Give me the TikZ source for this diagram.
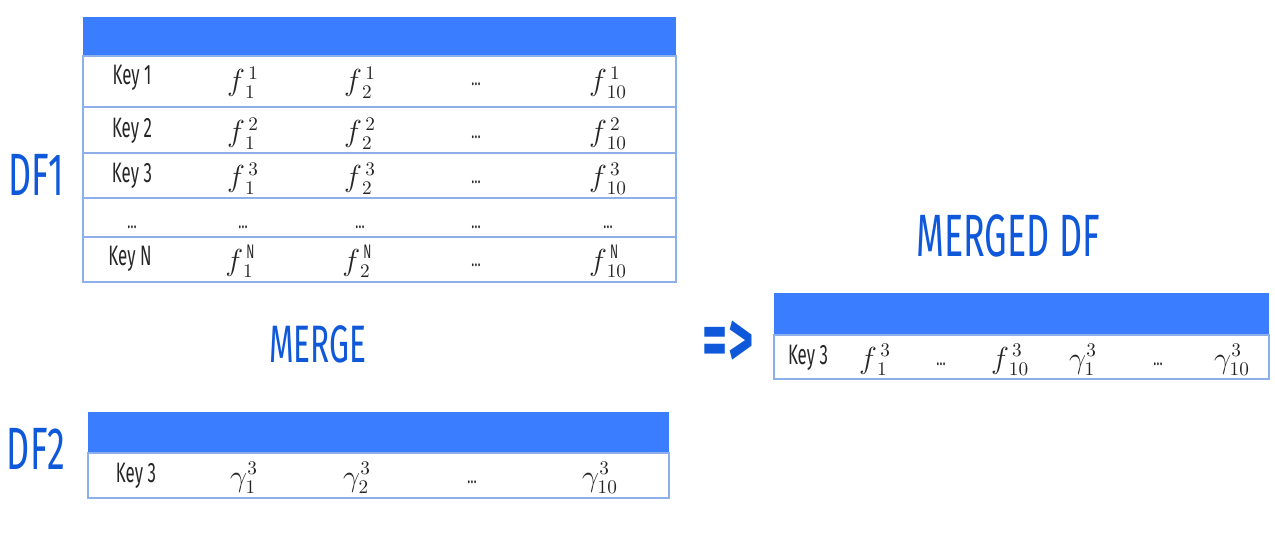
\documentclass[tikz,border=0pt]{standalone}
\usepackage{fontspec}
\usepackage{xcolor}
\usepackage{amsmath}
\setmainfont{Fira Sans}[FakeStretch=0.6]
\definecolor{hdrblue}{HTML}{3A7DFF}
\definecolor{titleblue}{HTML}{0F58DA}
\definecolor{lineblue}{HTML}{8DB0EA}

\begin{document}
\begin{tikzpicture}[
    x=0.02cm, y=-0.02cm,
    header/.style={fill=hdrblue, draw=none},
    frame/.style={draw=lineblue, line width=0.7pt},
    cell/.style={anchor=base, inner sep=0pt, text=black!85, font=\fontsize{16}{18}\selectfont},
    dots/.style={anchor=base, inner sep=0pt, text=black!85, font=\fontsize{12}{14}\selectfont},
    title/.style={inner sep=0pt, text=titleblue, font=\fontsize{34}{38}\selectfont}
]
\useasboundingbox (0,0) rectangle (1275,544);

% labels
\node[title] (df1) at (36,175) {DF1};
\node[title] (df2) at (36,449) {DF2};
\node[title, font=\fontsize{30}{34}\selectfont] (merge) at (318,344) {MERGE};
\node[title] (merged) at (1008,236) {MERGED DF};
\node[title, font=\bfseries\fontsize{46}{50}\selectfont] (then) at (728,344) {=>};

% DF1
\fill[header] (83,17) rectangle (676,56);
\draw[frame] (83,56) rectangle (676,282);
\draw[frame] (83,107) -- (676,107);
\draw[frame] (83,153) -- (676,153);
\draw[frame] (83,198) -- (676,198);
\draw[frame] (83,237) -- (676,237);

\node[cell] (k1) at (132,85) {Key 1};
\node[cell] (f11) at (243,91) {$f^{\,1}_{\,1}$};
\node[cell] (f12) at (360,91) {$f^{\,1}_{\,2}$};
\node[dots] (d1) at (476,86) {\ldots};
\node[cell] (f110) at (608,91) {$f^{\,1}_{\,10}$};

\node[cell] (k2) at (132,137) {Key 2};
\node[cell] (f21) at (243,142) {$f^{\,2}_{\,1}$};
\node[cell] (f22) at (360,142) {$f^{\,2}_{\,2}$};
\node[dots] (d2) at (476,138) {\ldots};
\node[cell] (f210) at (608,142) {$f^{\,2}_{\,10}$};

\node[cell] (k3) at (132,182) {Key 3};
\node[cell] (f31) at (243,187) {$f^{\,3}_{\,1}$};
\node[cell] (f32) at (360,187) {$f^{\,3}_{\,2}$};
\node[dots] (d3) at (476,183) {\ldots};
\node[cell] (f310) at (608,187) {$f^{\,3}_{\,10}$};

\node[dots] (e0) at (132,228) {\ldots};
\node[dots] (e1) at (243,228) {\ldots};
\node[dots] (e2) at (360,228) {\ldots};
\node[dots] (e3) at (476,228) {\ldots};
\node[dots] (e4) at (608,228) {\ldots};

\node[cell] (kn) at (130,265) {Key N};
\node[cell] (fn1) at (243,270) {$f^{\,\mathrm{N}}_{\,1}$};
\node[cell] (fn2) at (360,270) {$f^{\,\mathrm{N}}_{\,2}$};
\node[dots] (dn) at (476,266) {\ldots};
\node[cell] (fn10) at (608,270) {$f^{\,\mathrm{N}}_{\,10}$};

% DF2
\fill[header] (88,412) rectangle (669,453);
\draw[frame] (88,453) rectangle (669,498);
\node[cell] (g0) at (136,482) {Key 3};
\node[cell] (g1) at (244,486) {$\gamma^{3}_{1}$};
\node[cell] (g2) at (357,486) {$\gamma^{3}_{2}$};
\node[dots] (g3) at (472,483) {\ldots};
\node[cell] (g10) at (600,486) {$\gamma^{3}_{10}$};

% merged
\fill[header] (774,293) rectangle (1269,335);
\draw[frame] (774,335) rectangle (1269,379);
\node[cell] (m0) at (808,364) {Key 3};
\node[cell] (m1) at (875,368) {$f^{\,3}_{\,1}$};
\node[dots] (m2) at (941,365) {\ldots};
\node[cell] (m3) at (1010,368) {$f^{\,3}_{\,10}$};
\node[cell] (m4) at (1083,368) {$\gamma^{3}_{1}$};
\node[dots] (m5) at (1158,365) {\ldots};
\node[cell] (m6) at (1232,368) {$\gamma^{3}_{10}$};
\end{tikzpicture}
\end{document}
